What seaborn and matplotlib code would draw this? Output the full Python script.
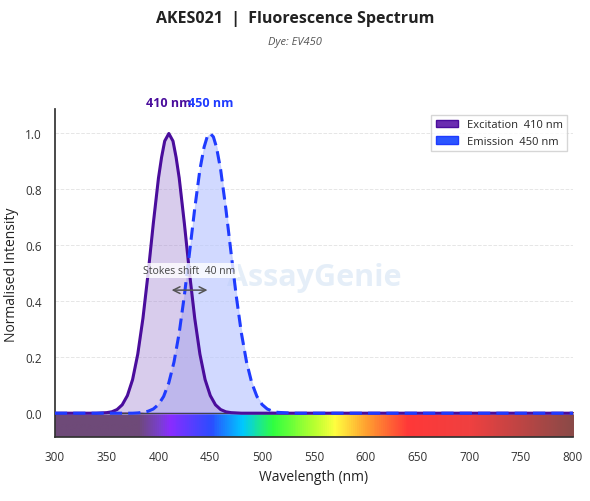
import numpy as np
import pandas as pd
import seaborn as sns
import matplotlib.pyplot as plt
from matplotlib.colors import LinearSegmentedColormap
from matplotlib.patches import Patch

# values (wavelength nm -> normalised intensity)
ex_wl = [300, 340, 350, 355, 360, 365, 370, 375, 380, 385, 390, 395, 400, 403, 406, 410,
         414, 417, 420, 425, 430, 435, 440, 445, 450, 455, 460, 465, 470, 480, 800]
ex_int = [0.0, 0.0, 0.002, 0.005, 0.013, 0.03, 0.063, 0.12, 0.211, 0.339, 0.5, 0.678, 0.841, 0.915, 0.973, 1.0,
          0.973, 0.915, 0.841, 0.678, 0.5, 0.339, 0.211, 0.12, 0.063, 0.03, 0.013, 0.005, 0.002, 0.0, 0.0]
em_wl = [300, 375, 380, 385, 390, 395, 400, 405, 410, 415, 420, 425, 430, 435, 440, 444, 447, 450,
         453, 456, 460, 465, 470, 475, 480, 485, 490, 495, 500, 505, 510, 515, 530, 800]
em_int = [0.0, 0.0, 0.001, 0.003, 0.007, 0.015, 0.031, 0.06, 0.109, 0.183, 0.287, 0.421, 0.575, 0.732, 0.871, 0.951, 0.988, 1.0,
          0.988, 0.951, 0.871, 0.732, 0.575, 0.421, 0.287, 0.183, 0.109, 0.06, 0.031, 0.015, 0.007, 0.003, 0.0, 0.0]
ex_peak, em_peak = 410, 450
ex_col, em_col = '#4a0d9c', '#1f3bff'

sns.set_theme(style='whitegrid')
plt.rcParams['font.family'] = ['Open Sans', 'DejaVu Sans']

fig = plt.figure(figsize=(5.9, 5.02), dpi=100)
ax = fig.add_axes([0.093, 0.127, 0.878, 0.653])

ex = pd.DataFrame({'wl': ex_wl, 'val': ex_int})
em = pd.DataFrame({'wl': em_wl, 'val': em_int})
ax.fill_between(em.wl, em.val, color='#b9c6ff', alpha=0.65, zorder=2)
ax.fill_between(ex.wl, ex.val, color='#a98fd6', alpha=0.45, zorder=2)
sns.lineplot(data=ex, x='wl', y='val', color=ex_col, lw=2.2, ax=ax, zorder=4)
sns.lineplot(data=em, x='wl', y='val', color=em_col, lw=2.2, ls=(0, (4, 2)), ax=ax, zorder=4)

# spectrum strip
cmap = LinearSegmentedColormap.from_list('spec', [
    (0.0, '#6e4a78'), (0.16, '#6e4a78'), (0.2, '#7a3fd0'), (0.22, '#8a2cff'),
    (0.3, '#2b4dff'), (0.36, '#00c8ff'), (0.42, '#30ff40'), (0.5, '#b8ff30'),
    (0.54, '#ffff40'), (0.6, '#ffa030'), (0.68, '#ff3838'), (0.8, '#f04040'),
    (1.0, '#8a4a48')])
ax.imshow(np.linspace(0, 1, 500)[None, :], extent=[300, 800, -0.086, 0.0],
          aspect='auto', cmap=cmap, zorder=1)

ax.set_xlim(300, 800)
ax.set_ylim(-0.086, 1.086)
ax.set_xticks(range(300, 801, 50))
ax.set_yticks(np.arange(0, 1.01, 0.2))
ax.set_yticklabels([f'{v:.1f}' for v in np.arange(0, 1.01, 0.2)])
ax.tick_params(labelsize=8.5, colors='#333333')
ax.grid(axis='x', visible=False)
ax.grid(axis='y', color='#e6e6e6', ls='--', lw=0.7)
ax.set_facecolor('white')
for s in ['top', 'right']:
    ax.spines[s].set_visible(False)
for s in ['left', 'bottom']:
    ax.spines[s].set_color('#333333')
ax.axhline(0, color='#444444', lw=0.8, zorder=3)
ax.set_xlabel('Wavelength (nm)', fontsize=10, color='#222222')
ax.set_ylabel('Normalised Intensity', fontsize=10, color='#222222')

# watermark
ax.text(0.5, 0.49, 'AssayGenie', transform=ax.transAxes, ha='center', va='center',
        fontsize=22, fontweight='bold', color='#d4e4f4', alpha=0.6, zorder=1.5)

# stokes shift
ax.annotate('', xy=(em_peak, 0.44), xytext=(ex_peak, 0.44),
            arrowprops=dict(arrowstyle='<->', color='#555555', lw=1.1), zorder=5)
ax.text((ex_peak + em_peak) / 2, 0.51, f'Stokes shift  {em_peak - ex_peak} nm', ha='center',
        va='center', fontsize=7.5, color='#444444', zorder=5,
        bbox=dict(boxstyle='square,pad=0.2', fc='white', ec='none', alpha=0.8))

ax.text(ex_peak, 1.1, f'{ex_peak} nm', ha='center', color=ex_col, fontsize=9, fontweight='bold')
ax.text(em_peak, 1.1, f'{em_peak} nm', ha='center', color=em_col, fontsize=9, fontweight='bold')

handles = [Patch(fc='#6a2cb0', ec=ex_col, label=f'Excitation  {ex_peak} nm'),
           Patch(fc='#2b55ff', ec=em_col, label=f'Emission  {em_peak} nm')]
ax.legend(handles=handles, loc='upper right', fontsize=8, frameon=True, edgecolor='#cccccc',
          fancybox=False)

fig.text(0.5, 0.955, 'AKES021  |  Fluorescence Spectrum', ha='center', fontsize=11.5,
         fontweight='bold', color='#222222')
fig.text(0.5, 0.91, 'Dye: EV450', ha='center', fontsize=8, style='italic', color='#555555')

fig.savefig('out.png', dpi=100)
